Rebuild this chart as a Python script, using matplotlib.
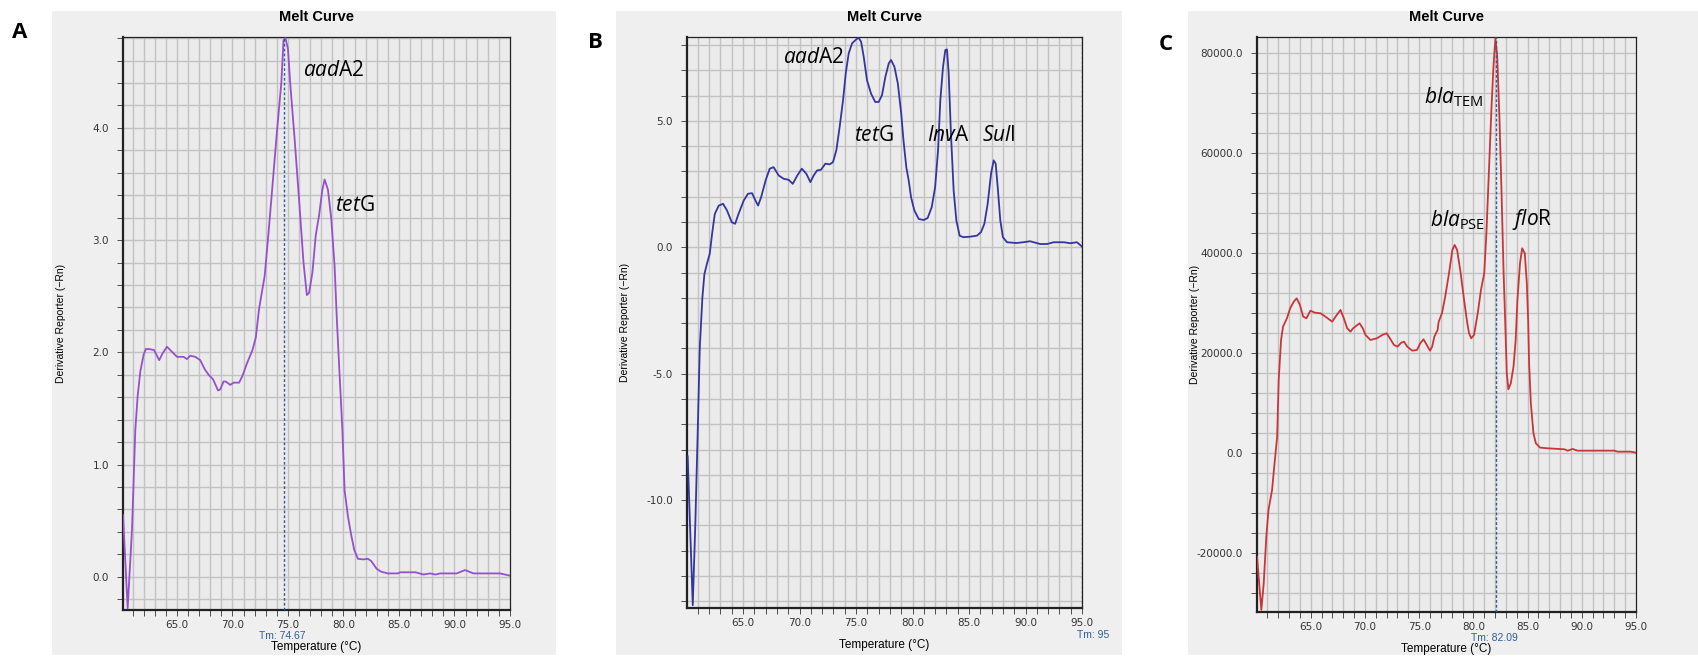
import matplotlib
matplotlib.use('Agg')
import matplotlib.pyplot as plt
import numpy as np
from matplotlib.patches import Rectangle

plt.rcParams['mathtext.fontset'] = 'custom'
plt.rcParams['mathtext.rm'] = 'Open Sans'
plt.rcParams['mathtext.it'] = 'Open Sans:italic'

# ---- data ----
temp_a = [60.14, 60.56, 60.95, 61.25, 61.46, 61.7, 62.0, 62.2, 62.45, 62.94, 63.4, 63.7, 64.1,
          64.4, 65.0, 65.6, 65.9, 66.2, 66.65, 67.1, 67.5, 67.85, 68.25, 68.7, 68.9, 69.2, 69.4,
          69.8, 70.1, 70.6, 70.9, 71.3, 71.8, 72.1, 72.4, 72.9, 73.2, 73.6, 74.0, 74.4, 74.6,
          74.78, 75.0, 75.2, 75.6, 76.0, 76.4, 76.7, 76.9, 77.2, 77.5, 77.8, 78.1, 78.3, 78.6,
          78.9, 79.2, 79.4, 79.6, 79.9, 80.1, 80.4, 80.7, 80.97, 81.3, 81.8, 82.2, 82.5, 83.0,
          83.4, 84.0, 84.9, 85.1, 86.5, 87.2, 87.8, 88.3, 88.7, 90.2, 90.95, 91.7, 94.1, 95.0]
deriv_a = [0.55, -0.28, 0.42, 1.31, 1.61, 1.83, 1.98, 2.03, 2.03, 2.02, 1.93, 1.99, 2.05,
           2.02, 1.96, 1.96, 1.94, 1.97, 1.96, 1.93, 1.85, 1.80, 1.76, 1.66, 1.67, 1.74, 1.74,
           1.71, 1.73, 1.73, 1.79, 1.90, 2.02, 2.13, 2.39, 2.68, 3.01, 3.48, 3.96, 4.40, 4.78,
           4.80, 4.70, 4.40, 3.90, 3.36, 2.80, 2.51, 2.53, 2.71, 3.04, 3.22, 3.45, 3.54, 3.45,
           3.19, 2.77, 2.30, 1.90, 1.31, 0.77, 0.54, 0.37, 0.24, 0.16, 0.155, 0.16, 0.14, 0.07,
           0.045, 0.03, 0.03, 0.04, 0.04, 0.02, 0.03, 0.02, 0.03, 0.03, 0.06, 0.03, 0.03, 0.01]

temp_b = [60.1, 60.55, 60.78, 60.99, 61.17, 61.4, 61.58, 61.8, 62.05, 62.26, 62.5, 62.85, 63.23,
          63.58, 64.0, 64.3, 64.6, 65.06, 65.44, 65.8, 66.1, 66.33, 66.6, 67.0, 67.36, 67.7,
          68.16, 68.6, 69.04, 69.4, 69.8, 70.2, 70.6, 70.96, 71.25, 71.55, 71.9, 72.29, 72.67,
          72.96, 73.26, 73.55, 73.85, 74.09, 74.35, 74.65, 75.03, 75.24, 75.45, 75.68, 75.97,
          76.33, 76.7, 77.0, 77.3, 77.6, 77.9, 78.1, 78.4, 78.7, 79.0, 79.2, 79.45, 79.66, 79.87,
          80.16, 80.55, 81.0, 81.34, 81.7, 82.0, 82.26, 82.46, 82.7, 82.9, 83.05, 83.2, 83.4,
          83.64, 83.88, 84.17, 84.5, 85.1, 85.7, 86.06, 86.36, 86.65, 86.95, 87.18, 87.36, 87.54,
          87.77, 88.0, 88.36, 89.2, 89.8, 90.4, 91.3, 91.9, 92.5, 93.4, 93.96, 94.55, 95.0]
deriv_b = [-8.27, -14.16, -10.9, -7.25, -3.98, -2.0, -1.06, -0.66, -0.26, 0.53, 1.32, 1.65, 1.72,
           1.46, 0.99, 0.93, 1.32, 1.85, 2.12, 2.14, 1.85, 1.65, 1.98, 2.65, 3.11, 3.17,
           2.84, 2.71, 2.67, 2.51, 2.84, 3.11, 2.91, 2.58, 2.84, 3.04, 3.07, 3.31, 3.28,
           3.37, 3.84, 4.76, 5.82, 6.88, 7.67, 8.07, 8.23, 8.29, 8.13, 7.54, 6.61,
           6.08, 5.75, 5.75, 6.02, 6.75, 7.28, 7.41, 7.14, 6.48, 5.29, 4.23, 3.17, 2.65, 1.98,
           1.46, 1.12, 1.08, 1.16, 1.59, 2.38, 3.84, 5.82, 7.14, 7.80, 7.83, 6.88, 4.50,
           2.25, 1.06, 0.46, 0.40, 0.42, 0.46, 0.60, 0.93, 1.72, 2.91, 3.44, 3.31, 2.38,
           1.06, 0.40, 0.20, 0.17, 0.20, 0.24, 0.13, 0.13, 0.20, 0.20, 0.16, 0.20, 0.03]

temp_c = [60.04, 60.44, 60.66, 60.9, 61.1, 61.43, 61.6, 61.9, 62.04, 62.26, 62.44, 62.8, 63.1,
          63.43, 63.7, 64.0, 64.3, 64.6, 64.97, 65.37, 65.9, 66.35, 66.97, 67.4, 67.74, 68.05,
          68.36, 68.67, 68.9, 69.5, 69.8, 70.05, 70.5, 71.1, 71.6, 72.0, 72.3, 72.67, 73.0,
          73.35, 73.6, 73.9, 74.36, 74.8, 75.1, 75.4, 75.7, 76.0, 76.2, 76.4, 76.7, 76.8, 77.1,
          77.4, 77.75, 78.06, 78.27, 78.5, 78.83, 79.14, 79.44, 79.6, 79.8, 80.06, 80.4, 80.7,
          81.0, 81.2, 81.45, 81.66, 81.85, 82.03, 82.2, 82.4, 82.6, 82.77, 82.95, 83.08, 83.23,
          83.45, 83.7, 83.9, 84.06, 84.3, 84.5, 84.74, 84.93, 85.05, 85.14, 85.3, 85.54, 85.76,
          86.16, 86.84, 88.4, 88.7, 89.15, 89.6, 91.5, 93.0, 93.3, 94.5, 95.0]
deriv_c = [-20670, -31330, -26000, -16670, -11330, -7330, -3330, 3330, 14670, 22670, 25330, 27000, 29000,
           30330, 31000, 29670, 27330, 27000, 28530, 28130, 28000, 27330, 26330, 27670, 28670, 27000,
           25000, 24330, 25000, 26000, 25000, 23670, 22670, 23000, 23670, 24000, 23000, 21670, 21330,
           22130, 22330, 21330, 20530, 20670, 22000, 22800, 21670, 20530, 21330, 23330, 24670, 26330, 28000,
           31330, 36000, 40670, 41670, 40670, 36000, 30670, 26000, 24000, 23000, 23670, 28000, 32670,
           36000, 44000, 57330, 68670, 77330, 83000, 79330, 67330, 52000, 37330, 25330, 16000, 12800,
           14000, 17330, 22670, 30670, 38000, 41000, 40000, 34000, 26670, 18000, 10000, 4000, 2000,
           1130, 1000, 800, 530, 870, 530, 530, 530, 330, 330, 130]

tm_values = [74.67, 95.0, 82.09]
tm_labels = ['Tm: 74.67', 'Tm: 95', 'Tm: 82.09']
panel_letters = ['A', 'B', 'C']
xticks = [65, 70, 75, 80, 85, 90, 95]

W, H = 1698, 657
fig = plt.figure(figsize=(W / 100, H / 100), dpi=100)
fig.patch.set_facecolor('white')

def fx(x):
    return x / W

def fy(y):
    return 1 - y / H

# gray panel backgrounds (pixels: left, top, right, bottom)
for l, t, r, b in [(52, 11, 556, 655), (616, 11, 1122, 655), (1188, 11, 1698, 655)]:
    fig.patches.append(Rectangle((fx(l), fy(b)), (r - l) / W, (b - t) / H,
                                 transform=fig.transFigure, facecolor='#efefef',
                                 edgecolor='none', zorder=-10))

# axes boxes in pixels (left, top, right, bottom)
boxes = [(123, 37, 510, 610), (687, 37, 1082, 608), (1257, 37, 1636, 612)]
xlims = [(60.14, 95.0), (60.04, 95.0), (60.04, 95.0)]
ylims = [(-0.296, 4.81), (-14.27, 8.32), (-31740, 83260)]
ymajor = [[0.0, 1.0, 2.0, 3.0, 4.0], [-10.0, -5.0, 0.0, 5.0], [-20000, 0, 20000, 40000, 60000, 80000]]
ystep = [0.2, 1.0, 4000]
series = [(temp_a, deriv_a, '#9550cc'), (temp_b, deriv_b, '#3535a0'), (temp_c, deriv_c, '#c8363a')]

axes = []
for i, (l, t, r, b) in enumerate(boxes):
    ax = fig.add_axes([fx(l), fy(b), (r - l) / W, (b - t) / H])
    ax.set_facecolor('#ebebeb')
    ax.set_xlim(*xlims[i])
    ax.set_ylim(*ylims[i])
    # grid every degree / minor y step
    for gx in range(61, 95):
        ax.axvline(gx, color='#c2c2c2', lw=1.0, zorder=0)
    y0, y1 = ylims[i]
    gy = np.arange(np.ceil(y0 / ystep[i]) * ystep[i], y1, ystep[i])
    for g in gy:
        ax.axhline(g, color='#c2c2c2', lw=1.0, zorder=0)
    ax.set_xticks(xticks)
    ax.set_xticklabels(['%.1f' % v for v in xticks])
    ax.set_xticks(range(61, 95), minor=True)
    ax.set_yticks(ymajor[i])
    ax.set_yticklabels(['%.1f' % v for v in ymajor[i]])
    ax.set_yticks(gy, minor=True)
    ax.tick_params(axis='both', which='both', labelsize=7.5, colors='#333333', length=4, width=0.6)
    ax.tick_params(axis='y', pad=6)
    for s in ax.spines.values():
        s.set_color('#222222')
        s.set_linewidth(0.9)
    ax.spines['left'].set_linewidth(1.6)
    ax.spines['bottom'].set_linewidth(1.6)

    x, y, c = series[i]
    ax.plot(x, y, color=c, lw=1.3, zorder=3)
    ax.axvline(tm_values[i], color='#2d5f9e', lw=1.0, ls=(0, (2, 1.5)), zorder=4)

    cx = fx((l + r) / 2)
    fig.text(cx, fy(17), 'Melt Curve', ha='center', va='center', fontsize=10.5,
             fontweight='bold', family='Liberation Sans')
    fig.text(cx, fy(b + 37), 'Temperature (°C)', ha='center', va='center', fontsize=8.5,
             family='Liberation Sans')
    fig.text(fx(l - 62), fy((t + b) / 2), 'Derivative Reporter (\u2212Rn)', rotation=90,
             ha='center', va='center', fontsize=7.5, family='Liberation Sans')
    axes.append(ax)

# Tm labels
fig.text(fx(282), fy(636), tm_labels[0], ha='center', va='center', fontsize=7.5,
         color='#2d5f9e', family='Liberation Sans')
fig.text(fx(1093), fy(635), tm_labels[1], ha='center', va='center', fontsize=7.5,
         color='#2d5f9e', family='Liberation Sans')
fig.text(fx(1494), fy(638), tm_labels[2], ha='center', va='center', fontsize=7.5,
         color='#2d5f9e', family='Liberation Sans')

# panel letters
for (px_, py_), lab in zip([(20, 32), (595, 42), (1166, 45)], panel_letters):
    fig.text(fx(px_), fy(py_), lab, ha='center', va='center', fontsize=16,
             fontweight='bold', family='Open Sans')

# gene annotations
ann = 15
axes[0].text(76.36, 4.52, r'$\mathit{aad}\mathrm{A2}$', fontsize=ann, va='center')
axes[0].text(79.24, 3.31, r'$\mathit{tet}\mathrm{G}$', fontsize=ann, va='center')
axes[1].text(68.54, 7.53, r'$\mathit{aad}\mathrm{A2}$', fontsize=ann, va='center')
axes[1].text(74.8, 4.43, r'$\mathit{tet}\mathrm{G}$', fontsize=ann, va='center')
axes[1].text(81.3, 4.43, r'$\mathit{Inv}\mathrm{A}$', fontsize=ann, va='center')
axes[1].text(86.15, 4.43, r'$\mathit{Sul}\mathrm{I}$', fontsize=ann, va='center')
axes[2].text(75.43, 71260, r'$\mathit{bla}_{\mathrm{TEM}}$', fontsize=ann, va='center')
axes[2].text(76.0, 46660, r'$\mathit{bla}_{\mathrm{PSE}}$', fontsize=ann, va='center')
axes[2].text(83.56, 46660, r'$\mathit{flo}\mathrm{R}$', fontsize=ann, va='center')

fig.savefig('out.png', dpi=100, facecolor='white')
